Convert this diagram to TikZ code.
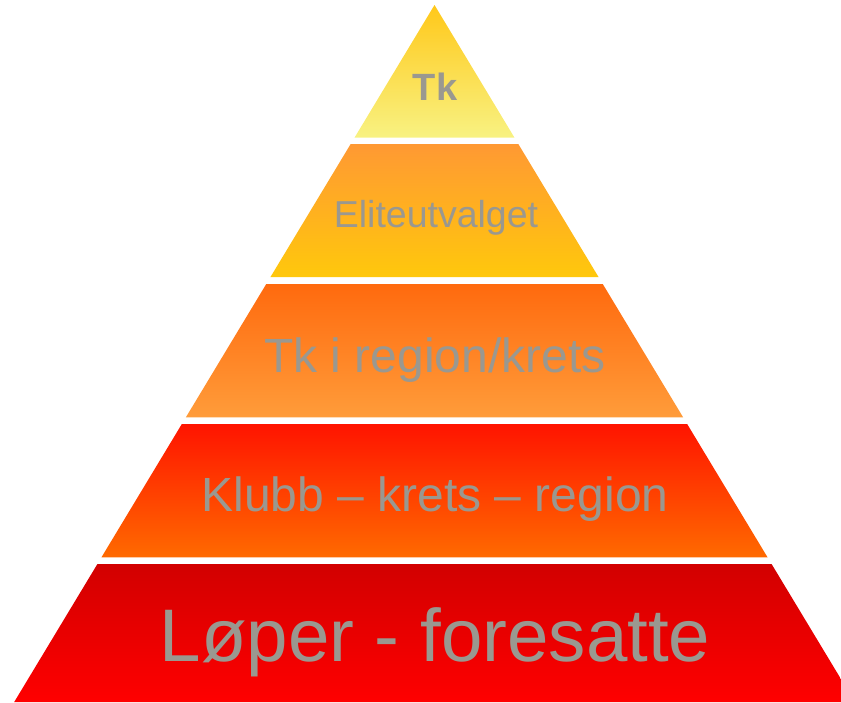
\documentclass[tikz,border=0pt]{standalone}
\usepackage{fontspec}
\setmainfont{Liberation Sans}
\definecolor{txtgray}{HTML}{9A9890}
\definecolor{laA}{HTML}{FFC81A}\definecolor{lbA}{HTML}{F8F282}
\definecolor{laB}{HTML}{FF9933}\definecolor{lbB}{HTML}{FFC80C}
\definecolor{laC}{HTML}{FF6A0E}\definecolor{lbC}{HTML}{FF9C3A}
\definecolor{laD}{HTML}{FF1400}\definecolor{lbD}{HTML}{FF6A00}
\definecolor{laE}{HTML}{D20000}\definecolor{lbE}{HTML}{FF0000}
\tikzset{lbl/.style={anchor=base,text=txtgray,inner sep=0pt}}
\begin{document}
\begin{tikzpicture}[x=1pt,y=-1pt]
\useasboundingbox (0,0) rectangle (841,702);
\clip (0,0) rectangle (841,702);
% half width = 0.603*(y-5), centre x = 434.5
\def\cx{434.5}
\shade[top color=laA,bottom color=lbA] (\cx,5) -- ({\cx+0.603*132.7},137.7) -- ({\cx-0.603*132.7},137.7) -- cycle;
\foreach \yt/\yb/\ca/\cb in {144/277/laB/lbB, 284/417.3/laC/lbC, 424/557.3/laD/lbD, 564/702/laE/lbE}{
  \shade[top color=\ca,bottom color=\cb]
    ({\cx-0.603*(\yt-5)},\yt) -- ({\cx+0.603*(\yt-5)},\yt) --
    ({\cx+0.603*(\yb-5)},\yb) -- ({\cx-0.603*(\yb-5)},\yb) -- cycle;
}
\node[lbl,font=\fontsize{38}{40}\selectfont\bfseries] (t1) at (435,100) {Tk};
\node[lbl,font=\fontsize{37.5}{40}\selectfont] (t2) at (436,227) {Eliteutvalget};
\node[lbl,font=\fontsize{48}{52}\selectfont] (t3) at (435,372.3) {Tk i region/krets};
\node[lbl,font=\fontsize{48}{52}\selectfont] (t4) at (435,511.7) {Klubb – krets – region};
\node[lbl,font=\fontsize{74.5}{80}\selectfont] (t5) at (435,661.7) {Løper - foresatte};
\end{tikzpicture}
\end{document}
